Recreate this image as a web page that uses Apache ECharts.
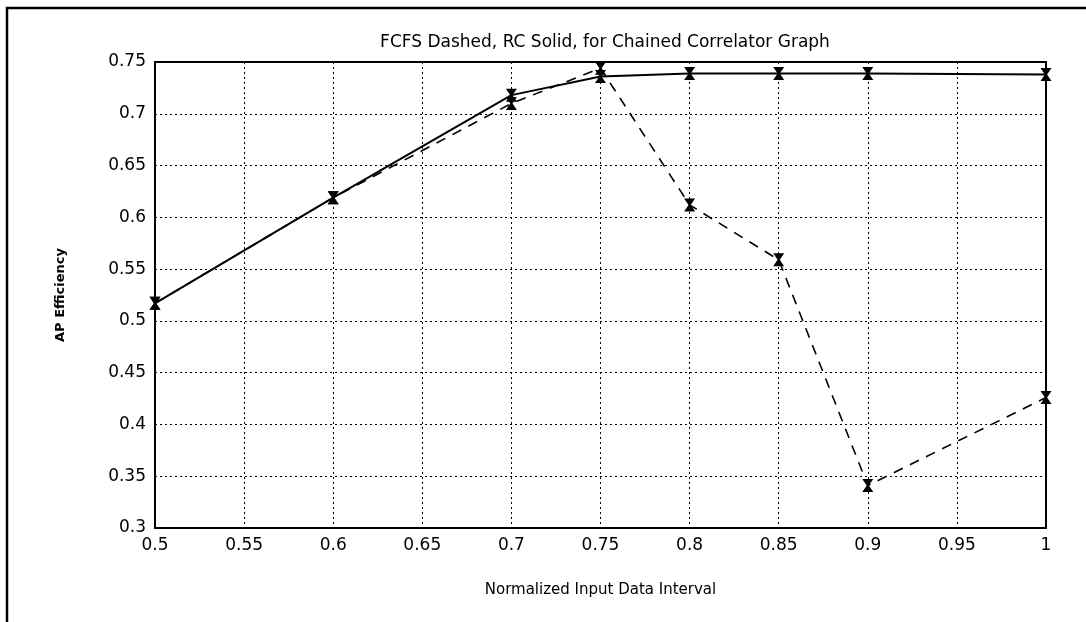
<!DOCTYPE html>
<html>
<head>
<meta charset="utf-8">
<script src="https://cdn.jsdelivr.net/npm/echarts@6/dist/echarts.min.js"></script>
<style>
  html, body { margin: 0; padding: 0; background: #fff; }
  #chart { width: 1086px; height: 622px; }
</style>
</head>
<body>
<div id="chart"></div>
<script>
/* AP efficiency chart, FCFS vs RC */
const intervals = [0.5, 0.6, 0.7, 0.75, 0.8, 0.85, 0.9, 1.0];
const rcSolid = [0.517, 0.619, 0.718, 0.736, 0.739, 0.739, 0.739, 0.738];
const fcfsDashed = [0.517, 0.619, 0.710, 0.744, 0.612, 0.559, 0.341, 0.426];

const hourglass = 'path://M0,0 L10,0 L6,5 L10,10 L0,10 L4,5 Z';
const fontFam = "'DejaVu Sans', sans-serif";

let chartDom = document.getElementById('chart');
let myChart = echarts.init(chartDom);

const pairs = (ys) => intervals.map((x, i) => [x, ys[i]]);

let option = {
    animation: false,
    backgroundColor: '#fff',
    title: {
        text: 'FCFS Dashed, RC Solid, for Chained Correlator Graph',
        left: 600,
        textAlign: 'center',
        top: 29,
        textStyle: { fontFamily: fontFam, fontSize: 17, fontWeight: 'normal', color: '#000' },
    },
    graphic: [
        {
            type: 'rect',
            shape: { x: 7, y: 8, width: 1200, height: 800 },
            style: { fill: 'none', stroke: '#000', lineWidth: 2.5 },
            silent: true,
        },
    ],
    grid: { left: 155, right: 40, top: 62, bottom: 94, show: true, borderColor: '#000', borderWidth: 2 },
    xAxis: {
        type: 'value',
        min: 0.5,
        max: 1,
        interval: 0.05,
        name: 'Normalized Input Data Interval',
        nameLocation: 'middle',
        nameGap: 55,
        nameTextStyle: { fontFamily: fontFam, fontSize: 15, color: '#000' },
        axisLine: { lineStyle: { color: '#000', width: 2 } },
        axisTick: { show: false },
        axisLabel: {
            fontFamily: fontFam, fontSize: 17, color: '#000', margin: 9,
            formatter: (v) => String(+v.toFixed(2)),
        },
        splitLine: { show: true, lineStyle: { color: '#000', type: [2, 3], width: 1 } },
    },
    yAxis: {
        type: 'value',
        min: 0.3,
        max: 0.75,
        interval: 0.05,
        name: 'AP Efficiency',
        nameLocation: 'middle',
        nameGap: 88,
        nameTextStyle: { fontFamily: fontFam, fontSize: 13, fontWeight: 'bold', color: '#000' },
        axisLine: { show: true, lineStyle: { color: '#000', width: 2 } },
        axisTick: { show: false },
        axisLabel: {
            fontFamily: fontFam, fontSize: 17, color: '#000', margin: 9,
            formatter: (v) => String(+v.toFixed(2)),
        },
        splitLine: { show: true, lineStyle: { color: '#000', type: [2, 3], width: 1 } },
    },
    series: [
        {
            name: 'RC',
            type: 'line',
            data: pairs(rcSolid),
            symbol: hourglass,
            symbolSize: [11, 13],
            itemStyle: { color: '#000' },
            lineStyle: { color: '#000', width: 2 },
            z: 3,
        },
        {
            name: 'FCFS',
            type: 'line',
            data: pairs(fcfsDashed),
            symbol: hourglass,
            symbolSize: [11, 13],
            itemStyle: { color: '#000' },
            lineStyle: { color: '#000', width: 1.6, type: [10, 8] },
            z: 4,
        },
    ],
};

option && myChart.setOption(option);
</script>
</body>
</html>
